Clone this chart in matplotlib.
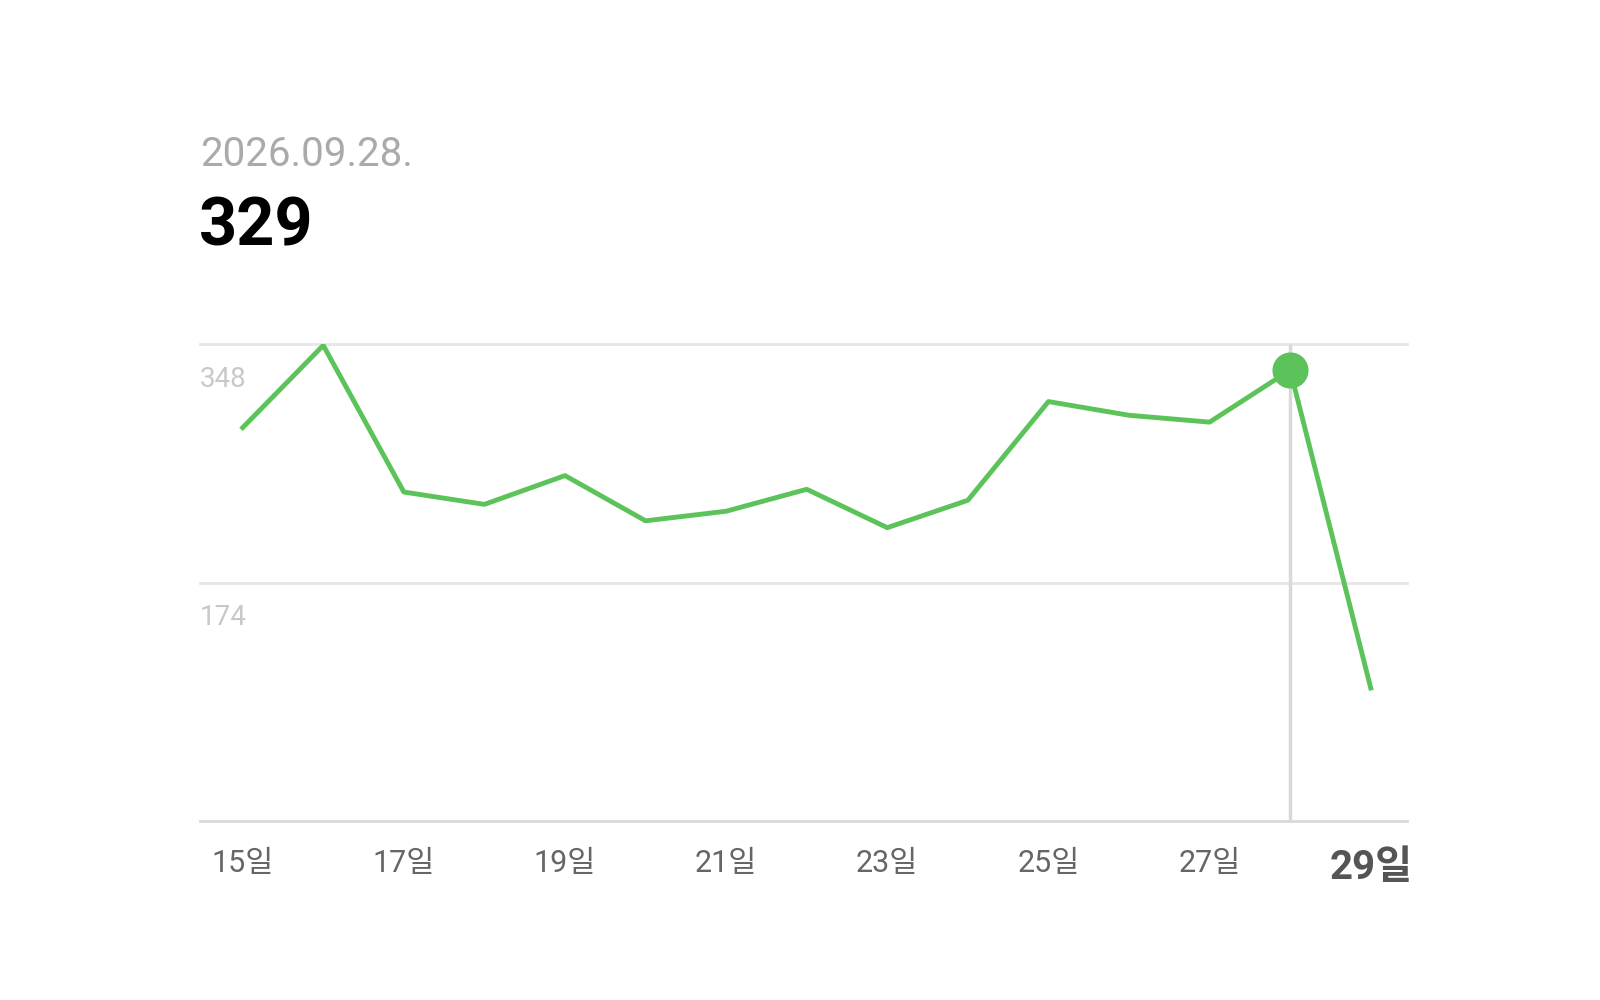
import matplotlib
matplotlib.use("Agg")
import matplotlib.pyplot as plt

days = list(range(15, 30))
values = [287, 347, 240, 231, 252, 219, 226, 242, 214, 234, 306, 296, 291, 329, 97]
tick_days = [15, 17, 19, 21, 23, 25, 27, 29]
tick_labels = [f"{d}일" for d in tick_days]
grid_vals = [174, 348]
sel_day, sel_val = 28, 329
title_date = "2026.09.28."

plt.rcParams['font.family'] = ['Roboto', 'Noto Sans CJK KR', 'DejaVu Sans']
fig = plt.figure(figsize=(16, 10), dpi=100)
L, R, B, T = 200/1600, 1407/1600, 1-821/1000, 1-344/1000
ax = fig.add_axes([L, B, R-L, T-B])
green = "#5cc35a"
ax.set_xlim(14.47, 29.45)
ax.set_ylim(0, 348)
for g in grid_vals:
    ax.axhline(g, color="#e6e6e6", lw=2, zorder=0, clip_on=False)
    ax.text(14.47, g - 16, str(g), color="#c8c8c8", fontsize=20, va="top", ha="left")
ax.vlines(sel_day, 0, 348, color="#d9d9d9", lw=2.5, zorder=1)
ax.plot(days, values, color=green, lw=3.5, zorder=2)
ax.plot([sel_day], [sel_val], 'o', color=green, ms=25, zorder=3)
for s in ["top", "right", "left"]:
    ax.spines[s].set_visible(False)
ax.spines["bottom"].set_color("#d9d9d9")
ax.spines["bottom"].set_linewidth(2)
ax.set_yticks([])
ax.set_xticks(tick_days)
ax.set_xticklabels(tick_labels)
ax.tick_params(axis="x", length=0, pad=20, labelsize=22, labelcolor="#666666")
lbl = ax.get_xticklabels()[-1]
lbl.set_fontweight("bold"); lbl.set_fontsize(29); lbl.set_color("#555555")
fig.text(L, 1-154/1000, title_date, color="#aaaaaa", fontsize=29, va="center", ha="left")
fig.text(L - 0.001, 1-228/1000, str(sel_val), color="#000000", fontsize=48, fontweight="bold", va="center", ha="left")
fig.savefig("out.png", dpi=100, facecolor="white")
